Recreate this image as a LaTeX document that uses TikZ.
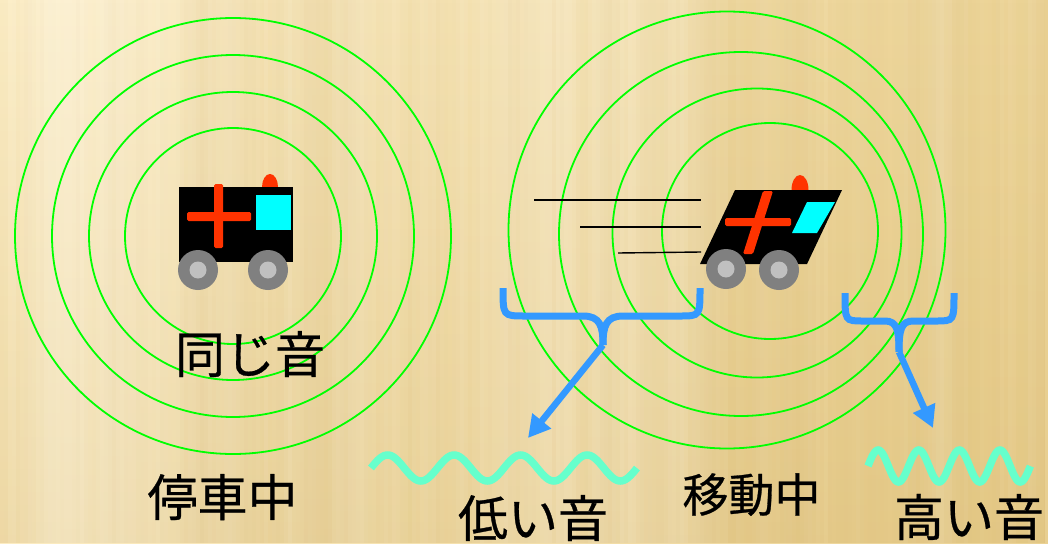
\documentclass[tikz,border=0pt]{standalone}
\usepackage{fontspec}
\newfontfamily\jpfont[FakeBold=0.6]{Noto Sans CJK JP}
\usetikzlibrary{arrows.meta,fadings}

\definecolor{ringgreen}{RGB}{0,255,0}
\definecolor{sirenred}{RGB}{255,51,0}
\definecolor{glass}{RGB}{0,255,255}
\definecolor{tyre}{RGB}{128,128,128}
\definecolor{hub}{RGB}{192,192,192}
\definecolor{bracket}{RGB}{51,153,255}
\definecolor{wavecol}{RGB}{102,255,204}
\definecolor{paperlight}{RGB}{252,236,194}
\definecolor{paperdark}{RGB}{235,210,148}
\definecolor{paperdeep}{RGB}{212,178,100}
\definecolor{streakdark}{RGB}{200,165,90}

\begin{document}
\begin{tikzpicture}[x=1pt,y=-1pt,
  ring/.style={draw=ringgreen, line width=1.8pt},
  redcross/.style={fill=sirenred, rounded corners=1.5pt},
  trail/.style={draw=black, line width=1.4pt},
  bracestyle/.style={draw=bracket, line width=7pt},
  pointer/.style={draw=bracket, line width=6.5pt, -{Triangle[length=22pt,width=23pt]}},
  sound/.style={draw=wavecol, line width=7.5pt},
  caption/.style={font=\jpfont\fontsize{50pt}{60pt}\selectfont, anchor=base, inner sep=0pt}
]
\useasboundingbox (0,0) rectangle (1048,543);

% paper background with soft vertical streaks
\fill[left color=paperlight, right color=paperdark] (0,0) rectangle (1048,543);
\fill[paperdeep, path fading=north, fill opacity=0.35] (0,0) rectangle (1048,543);
\pgfmathsetseed{2718}
\gdef\lightop{0.08}
\gdef\darkop{0.04}
\foreach \i in {0,...,261}{
  \pgfmathsetmacro\newlight{max(0,min(0.30,\lightop+0.10*(rnd-0.5)))}
  \xdef\lightop{\newlight}
  \pgfmathsetmacro\newdark{max(0,min(0.16,\darkop+0.07*(rnd-0.5)))}
  \xdef\darkop{\newdark}
  \fill[white, opacity=\lightop] ({\i*4},0) rectangle ++(4.3,543);
  \fill[streakdark, opacity=\darkop] ({\i*4},0) rectangle ++(4.3,543);
}

% sound rings around the standing ambulance
\foreach \r in {108,144,181,218} \draw[ring] (233,236) circle[radius=\r pt];

% sound rings around the moving ambulance, shifted forward
\draw[ring] (770,231) circle[radius=108pt];
\draw[ring] (757,233) circle[radius=144.5pt];
\draw[ring] (741,234) circle[radius=182pt];
\draw[ring] (727,230) circle[radius=218.5pt];

% motion trails
\coordinate (trailA) at (534,200); \coordinate (trailAe) at (701,200);
\coordinate (trailB) at (580,227); \coordinate (trailBe) at (701,227);
\coordinate (trailC) at (618,253); \coordinate (trailCe) at (701,252);
\draw[trail] (trailA) -- (trailAe);
\draw[trail] (trailB) -- (trailBe);
\draw[trail] (trailC) -- (trailCe);

% standing ambulance
\fill[sirenred] (270,187) ellipse[x radius=8pt, y radius=13pt];
\fill[black] (179,187) rectangle (293,262);
\fill[glass] (256,195) rectangle (291,230);
\fill[redcross] (214,184) rectangle (223,248);
\fill[redcross] (187,212) rectangle (251,221);
\fill[tyre] (198,270) circle[radius=20pt];
\fill[hub] (198,270) circle[radius=8.5pt];
\fill[tyre] (268,270) circle[radius=20pt];
\fill[hub] (268,270) circle[radius=8.5pt];

% moving ambulance (slanted)
\fill[sirenred] (800,190) ellipse[x radius=8.5pt, y radius=15pt];
\fill[black] (735,190) -- (842,190) -- (807,264) -- (700,264) -- cycle;
\fill[glass] (807,202) -- (835,202) -- (817,233) -- (792,233) -- cycle;
\fill[redcross] (763,191) -- (773,191) -- (753,254) -- (743,254) -- cycle;
\fill[redcross] (725,218) rectangle (791,226);
\fill[tyre] (726,269) circle[radius=20pt];
\fill[hub] (726,269) circle[radius=8.5pt];
\fill[tyre] (779,270) circle[radius=20pt];
\fill[hub] (779,270) circle[radius=8.5pt];

% brace over the rear wavefronts
\coordinate (lowtip) at (603,345);
\coordinate (lowend) at (528,438);
\draw[bracestyle] (503,288) .. controls (503,316) and (503,316) .. (525,316) -- (583,316)
  .. controls (600,316) and (603,326) .. (lowtip);
\draw[bracestyle] (700,288) .. controls (700,316) and (700,316) .. (680,316) -- (623,316)
  .. controls (606,316) and (603,326) .. (lowtip);
\draw[pointer] (lowtip) -- (lowend);

% brace over the front wavefronts
\coordinate (hightip) at (899,352);
\coordinate (highend) at (933,428);
\draw[bracestyle] (845,293) .. controls (845,321) and (845,321) .. (863,321) -- (885,321)
  .. controls (897,321) and (899,330) .. (hightip);
\draw[bracestyle] (954,293) .. controls (954,321) and (954,321) .. (936,321) -- (913,321)
  .. controls (901,321) and (899,330) .. (hightip);
\draw[pointer] (hightip) -- (highend);

% waveforms
\draw[sound] plot[variable=\t, domain=0:4, samples=161, smooth] ({371+66.5*\t},{468-13*sin(360*\t)});
\draw[sound] plot[variable=\t, domain=0:4, samples=161, smooth] ({868+40.6*\t},{466-16*sin(360*\t)});

% captions
\node[caption] (same) at (250,373) {同じ音};
\node[caption] (stopped) at (222.5,516) {停車中};
\node[caption] (low) at (533,537) {低い音};
\node[caption, font=\jpfont\fontsize{46pt}{55pt}\selectfont] (moving) at (751.5,512) {移動中};
\node[caption] (high) at (969,536) {高い音};
\end{tikzpicture}
\end{document}
